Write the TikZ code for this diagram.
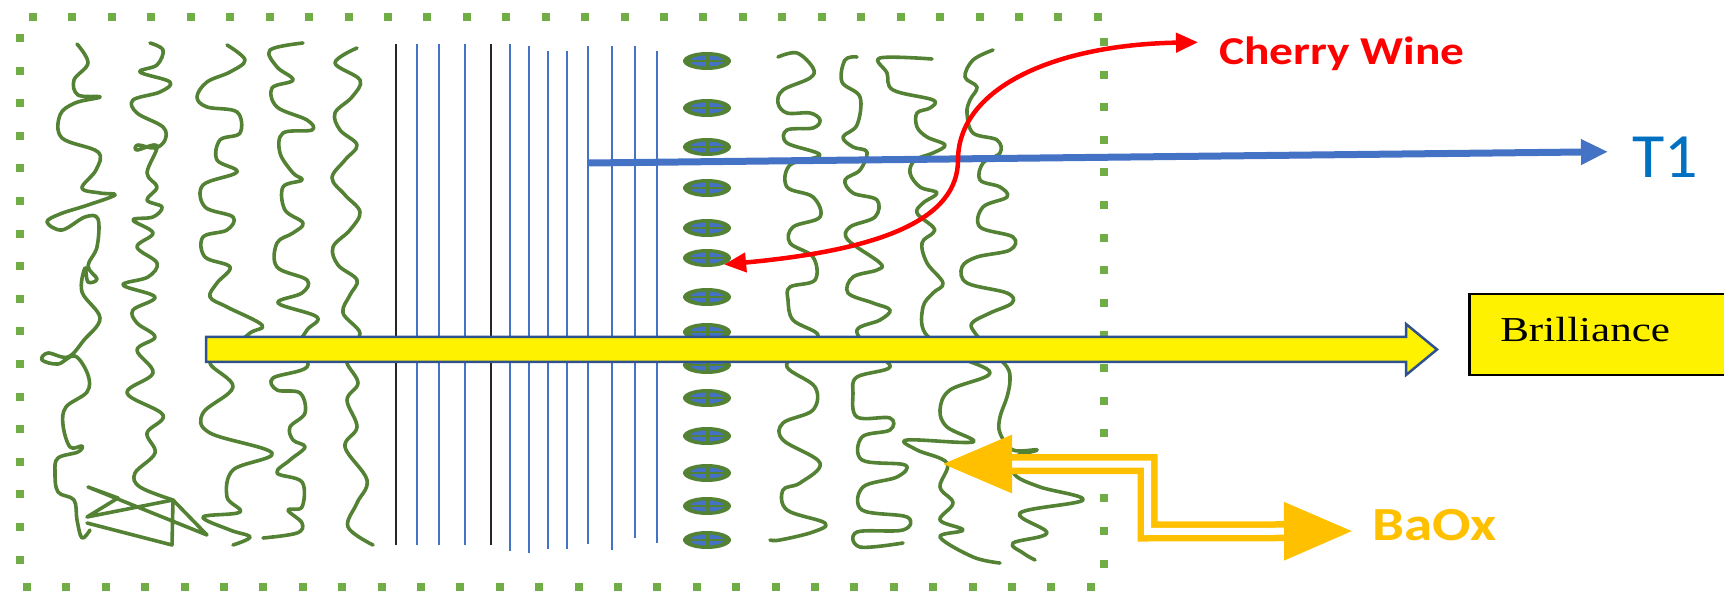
\documentclass[tikz,border=0pt]{standalone}
\usepackage{fontspec}
\usepackage{tikz}
\usetikzlibrary{arrows.meta, shapes.geometric, calc, positioning}
\newfontfamily\labelfont{Carlito}
\newfontfamily\boxfont{Liberation Serif}
\definecolor{dotgreen}{HTML}{70AD47}
\definecolor{fibregreen}{HTML}{548235}
\definecolor{lineblue}{HTML}{4472C4}
\definecolor{textblue}{HTML}{0070C0}
\definecolor{rimblue}{HTML}{2F528F}
\definecolor{baoxgold}{HTML}{FFC000}
\tikzset{
  fibre/.style={draw=fibregreen, line width=3.6pt, line join=round, line cap=round},
  bluefilm/.style={draw=lineblue, line width=1.8pt},
  cell/.style={ellipse, fill=fibregreen, minimum width=48pt, minimum height=18pt, inner sep=0pt,
    path picture={
      \fill[lineblue] (path picture bounding box.center) ellipse (17pt and 5.5pt);
      \draw[fibregreen, line width=3pt] (path picture bounding box.north) -- (path picture bounding box.south);
      \draw[fibregreen, line width=2pt] (path picture bounding box.west) -- (path picture bounding box.east);}},
  label/.style={anchor=base west, inner sep=0pt},
}

\begin{document}
\begin{tikzpicture}[x=1pt, y=-1pt]
    \useasboundingbox (0,0) rectangle (1724,593);
    \clip (0,0) rectangle (1724,593);

    \foreach \k in {0,...,27} {
        \fill[dotgreen] ({33+39.44*\k-4},13) rectangle ++(8,8);
        \fill[dotgreen] ({27+39.4*\k-4},583) rectangle ++(8,8);
    }
    \foreach \k in {0,...,16} {
        \fill[dotgreen] (16,{38+32.6*\k-4}) rectangle ++(8,8);
        \fill[dotgreen] (1100,{42+32.6*\k-4}) rectangle ++(8,8);
    }

    \draw[fibre] plot[smooth, tension=0.6] coordinates {(77,44) (88,63) (74,80) (78,95) (100,97) (75,103) (60,115) (62,138) (98,152) (96,170) (82,188) (100,193) (115,195) (88,205) (60,214) (47,222) (62,230) (85,217) (98,219) (97,247) (88,266) (97,279) (88,282) (85,268) (82,292) (100,318) (84,340) (68,357) (48,353) (42,360) (58,364) (75,356) (88,375) (87,392) (66,407) (63,425) (70,447) (82,446) (78,452) (58,458) (55,472) (58,492) (74,500) (77,520) (82,538) (90,530)};
    \draw[fibre] plot[smooth, tension=0.6] coordinates {(150,43) (163,50) (157,65) (140,72) (170,82) (160,92) (133,100) (137,113) (163,127) (165,140) (155,148) (138,145) (137,150) (157,146) (147,173) (157,187) (147,200) (162,207) (153,217) (133,220) (153,233) (137,247) (157,263) (148,277) (123,285) (155,297) (133,310) (137,323) (155,337) (137,350) (153,373) (127,393) (163,415) (147,433) (155,453) (135,473) (140,487) (173,500)};
    \draw[fibre] (173,500) -- (207,535) -- (88,487) -- (118,498) -- (87,517) -- (173,500) -- (172,545) -- (87,523);
    \draw[fibre] plot[smooth, tension=0.6] coordinates {(227,45) (245,60) (230,72) (207,82) (197,97) (207,107) (237,112) (240,133) (220,140) (217,160) (237,172) (203,185) (205,207) (233,217) (227,230) (203,237) (205,257) (230,267) (217,283) (210,297) (227,307) (262,325) (250,333) (230,350) (210,363) (233,387) (203,413) (210,433) (272,453) (233,470) (227,497) (240,512) (203,517) (230,530) (250,537) (233,545)};
    \draw[fibre] plot[smooth, tension=0.6] coordinates {(303,43) (270,50) (277,67) (293,80) (272,88) (277,107) (307,120) (312,130) (283,133) (280,153) (293,173) (302,180) (283,187) (285,210) (303,223) (293,233) (277,243) (277,267) (307,280) (302,293) (278,303) (317,317) (307,330) (300,345) (307,367) (273,378) (277,390) (300,393) (305,413) (290,427) (293,440) (305,447) (290,460) (277,473) (302,482) (302,507) (288,510) (302,523) (297,533) (263,538)};
    \draw[fibre] plot[smooth, tension=0.6] coordinates {(357,48) (335,63) (360,80) (352,97) (335,113) (340,130) (357,145) (345,160) (332,178) (345,195) (360,212) (350,230) (333,247) (338,265) (357,280) (350,295) (343,313) (360,333) (350,350) (347,363) (358,383) (347,400) (357,427) (345,447) (367,480) (357,503) (348,527) (373,545)};
    \draw[fibre] plot[smooth, tension=0.6] coordinates {(778,57) (797,53) (813,68) (810,78) (783,90) (778,103) (787,113) (810,113) (820,120) (813,128) (787,130) (787,143) (820,155) (790,165) (787,187) (813,197) (820,217) (793,227) (790,243) (813,257) (815,280) (790,287) (788,300) (793,320) (818,335) (800,350) (787,367) (815,387) (813,410) (783,423) (783,440) (820,463) (800,483) (783,490) (787,510) (825,523) (813,532) (780,540) (770,540)};
    \draw[fibre] plot[smooth, tension=0.6] coordinates {(857,57) (845,60) (842,82) (860,97) (857,125) (843,137) (853,147) (867,152) (860,170) (845,180) (853,193) (877,200) (875,217) (850,227) (848,240) (880,263) (877,270) (853,277) (848,293) (873,303) (890,310) (880,320) (857,330) (870,350) (890,367) (857,377) (853,393) (857,417) (890,418) (890,430) (862,437) (862,460) (905,465) (897,477) (863,487) (862,510) (907,517) (903,530) (857,532) (860,547) (903,543)};
    \draw[fibre] plot[smooth, tension=0.6] coordinates {(932,59) (880,58) (887,73) (893,90) (933,100) (930,108) (917,113) (917,127) (927,137) (945,145) (933,153) (915,160) (910,173) (920,187) (937,193) (923,203) (917,213) (933,227) (933,233) (922,243) (927,263) (943,283) (933,293) (923,307) (925,333) (955,355) (990,373) (950,390) (940,410) (947,427) (973,442) (907,440) (917,450) (947,463) (940,487) (953,503) (940,520) (963,530) (940,537) (973,557) (1000,563)};
    \draw[fibre] plot[smooth, tension=0.6] coordinates {(993,50) (973,60) (965,77) (977,87) (970,100) (967,113) (973,133) (997,140) (1000,153) (983,163) (980,180) (1000,187) (1007,197) (983,207) (980,227) (1013,237) (1010,250) (977,257) (962,267) (967,283) (1007,293) (1012,303) (990,313) (972,323) (975,333) (990,350) (1007,367) (1010,380) (1007,397) (1000,417) (1000,433) (1013,450) (1037,450) (1013,458) (1015,475) (1040,487) (1083,500) (1020,513) (1047,533) (1013,543) (1023,553) (1035,560)};

    \foreach \x/\a/\b in {417/44/545, 439/44/545, 465/44/545, 510/44/551, 529/46/553, 548/51/549, 567/51/549, 588/46/544, 612/46/550, 635/46/538, 657/51/543}
        \draw[bluefilm] (\x,\a) -- (\x,\b);
    \foreach \x in {396,491}
        \draw[black!85, line width=2pt] (\x,44) -- (\x,545);

    \foreach \y [count=\i] in {61,108,147,188,228,258,297,332,365,398,436,473,506,540}
        \node[cell] (c\i) at (707,\y) {};

    \draw[draw=rimblue, fill=yellow, line width=2.5pt] (206,337) -- (1406,337) -- (1406,324) -- (1437,349.5) -- (1406,375) -- (1406,362) -- (206,362) -- cycle;

    \node[draw=black, fill=yellow, line width=2.5pt, anchor=north west, minimum height=81pt, text width=320pt, inner xsep=31pt, inner ysep=0pt, text depth=11pt, font=\boxfont\fontsize{35}{35}\selectfont] (bril) at (1468,293) {\scalebox{1.23}[1]{Brilliance}};
    \node[label, text=textblue, font=\labelfont\fontsize{63}{63}\selectfont] (t1) at (1632,178) {\scalebox{1.05}[1]{T1}};
    \node[label, text=red, font=\labelfont\bfseries\fontsize{39.5}{40}\selectfont] (cherry) at (1219,65) {\scalebox{1.2}[1]{Cherry Wine}};
    \node[label, text=baoxgold, font=\labelfont\bfseries\fontsize{47.5}{48}\selectfont] (baox) at (1372,540) {\scalebox{1.2}[1]{BaOx}};

    \coordinate (t1start) at (588,163);
    \coordinate (baoxleft) at (943,464);

    \draw[lineblue, line width=7pt, -{Triangle[length=27pt,width=24pt]}] (t1start) -- ([xshift=-24pt,yshift=6pt]t1.west);
    \draw[red, line width=4.5pt, {Triangle[length=22pt,width=19pt]}-{Triangle[length=22pt,width=19pt]}] (c6.south east) .. controls (880,250) and (958,220) .. (958,160) .. controls (958,90) and (1050,45) .. ([xshift=-21pt,yshift=12pt]cherry.west);
    \draw[baoxgold, line width=6.5pt, double=white, double distance=7pt, {Triangle[length=69pt,width=57pt]}-{Triangle[length=68pt,width=57pt]}] (baoxleft) -| (1147.5,531.5) -- ([xshift=-20pt,yshift=-6.5pt]baox.west);
\end{tikzpicture}
\end{document}
